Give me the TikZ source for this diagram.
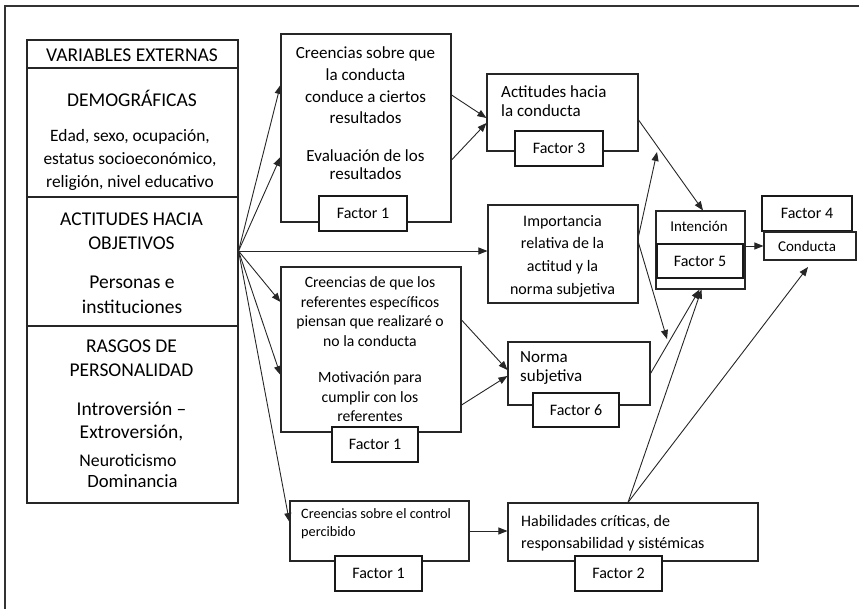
\documentclass[tikz,border=0pt]{standalone}
\usepackage{fontspec}
\setmainfont{Carlito}
\usetikzlibrary{arrows.meta}

\begin{document}
\begin{tikzpicture}[x=1pt, y=-1pt,
  box/.style={draw=black!85, line width=1.1pt, inner sep=0pt},
  tab/.style={draw=black!90, fill=white, line width=1.1pt, inner sep=0pt, minimum height=35pt, font={\fontsize{16}{18}\selectfont}},
  head/.style={align=center, font={\fontsize{19.5}{24}\selectfont}},
  txt/.style={align=center, inner sep=0pt},
  ltxt/.style={align=left, anchor=west, inner sep=0pt},
  arr/.style={-{Triangle[length=9pt,width=7pt]}, line width=0.9pt, draw=black!85}]
  \useasboundingbox (0,0) rectangle (859,609);
  \draw[line width=1.1pt, black!80] (5,6) rectangle (880,630);

  \node[box, minimum width=211pt, minimum height=28pt] (var) at (132.5,54) {};
  \node[box, minimum width=211pt, minimum height=129pt] (demo) at (132.5,132.5) {};
  \node[box, minimum width=211pt, minimum height=129pt] (acti) at (132.5,261.5) {};
  \node[box, minimum width=211pt, minimum height=177pt] (rasg) at (132.5,414.5) {};

  \node[head] (varT) at (132,55) {VARIABLES EXTERNAS};
  \node[head] (demoT) at (132,98) {DEMOGRÁFICAS};
  \node[txt, font={\fontsize{17.4}{23}\selectfont}] (demoL) at (130,160) {Edad, sexo, ocupación,\\estatus socioeconómico,\\religión, nivel educativo};
  \node[head] (actiT) at (131.5,231.5) {ACTITUDES HACIA\\OBJETIVOS};
  \node[head, font={\fontsize{19.5}{25}\selectfont}] (actiL) at (132,295) {Personas e\\instituciones};
  \node[head, font={\fontsize{19.5}{24.5}\selectfont}] (rasgT) at (131.5,358) {RASGOS DE\\PERSONALIDAD};
  \node[head, font={\fontsize{19.5}{23}\selectfont}] (rasgL) at (131.5,421.5) {Introversión –\\Extroversión,};
  \node[txt, font={\fontsize{17.8}{20}\selectfont}] (neuro) at (128,460) {Neuroticismo};
  \node[txt, font={\fontsize{18.7}{20}\selectfont}] (domin) at (132.5,481) {Dominancia};

  \node[box, minimum width=170pt, minimum height=188pt] (crA) at (366,128) {};
  \node[txt, font={\fontsize{17}{21.7}\selectfont}] (crAT) at (365.5,85.5) {Creencias sobre que\\la conducta\\conduce a ciertos\\resultados};
  \node[txt, font={\fontsize{17}{17.5}\selectfont}] (crAL) at (365.5,164.5) {Evaluación de los\\resultados};
  \node[tab, minimum width=88pt] (fA) at (363,213.5) {Factor 1};

  \node[box, minimum width=151pt, minimum height=77pt] (actit) at (562.5,112.5) {};
  \node[ltxt, font={\fontsize{17}{19}\selectfont}] (actitT) at (501,101.5) {Actitudes hacia\\la conducta};
  \node[tab, minimum width=88pt] (f3) at (559,148.5) {Factor 3};

  \node[box, minimum width=150pt, minimum height=98pt] (impo) at (563,254) {};
  \node[txt, font={\fontsize{16}{22.7}\selectfont}] (impoT) at (562.5,256) {Importancia\\relativa de la\\actitud y la\\norma subjetiva};

  \node[box, minimum width=89pt, minimum height=78pt] (inten) at (700.5,250) {};
  \node[txt, font={\fontsize{15}{17}\selectfont}] (intenT) at (699,226) {Intención};
  \node[tab, minimum width=86pt, minimum height=34pt] (f5) at (700,261) {Factor 5};

  \node[tab, minimum width=90pt] (f4) at (807,213.5) {Factor 4};
  \node[box, minimum width=92pt, minimum height=28pt] (cond) at (810,246) {};
  \node[txt, font={\fontsize{15}{17}\selectfont}] (condT) at (807,246) {Conducta};

  \node[box, minimum width=180pt, minimum height=165pt] (crB) at (371,349.5) {};
  \node[txt, font={\fontsize{15.7}{19.7}\selectfont}] (crBT) at (370,311.5) {Creencias de que los\\referentes específicos\\piensan que realizaré o\\no la conducta};
  \node[txt, font={\fontsize{15.7}{19.5}\selectfont}] (crBL) at (370,397) {Motivación para\\cumplir con los\\referentes};
  \node[tab, minimum width=86pt] (fB) at (375,444.5) {Factor 1};

  \node[box, minimum width=142pt, minimum height=63pt] (norma) at (579,373.5) {};
  \node[ltxt, font={\fontsize{17}{19}\selectfont}] (normaT) at (520,368.5) {Norma\\subjetiva};
  \node[tab, minimum width=86pt, minimum height=34pt] (f6) at (576,410) {Factor 6};

  \node[box, minimum width=179pt, minimum height=60pt] (ctrl) at (379.5,531) {};
  \node[ltxt, font={\fontsize{14.3}{18}\selectfont}] (ctrlT) at (301,524) {Creencias sobre el control\\percibido};
  \node[tab, minimum width=87pt] (fC) at (378.5,573.5) {Factor 1};

  \node[box, minimum width=250pt, minimum height=58pt] (habil) at (633,532) {};
  \node[ltxt, font={\fontsize{16}{22}\selectfont}] (habilT) at (521,533) {Habilidades críticas, de\\responsabilidad y sistémicas};
  \node[tab, minimum width=87pt] (f2) at (618.5,573.5) {Factor 2};

  \coordinate (src) at ([yshift=10.5pt]acti.east);
  \coordinate (m1) at (657,152);
  \coordinate (m2) at (667,339);
  \coordinate (m3) at (808,267);

  \draw[arr] (src) -- ([yshift=43pt]crA.west);
  \draw[arr] (src) -- ([yshift=-29pt]crA.west);
  \draw[arr] (src) -- (src -| impo.west);
  \draw[arr] (src) -- ([yshift=47.5pt]crB.west);
  \draw[arr] (src) -- ([yshift=-25.5pt]crB.west);
  \draw[arr] (src) -- ([yshift=9pt]ctrl.west);
  \draw[arr] ([yshift=33pt]crA.east) -- ([yshift=-5.5pt]actit.west);
  \draw[arr] ([yshift=-32pt]crA.east) -- ([yshift=-10.5pt]actit.west);
  \draw[arr] ([yshift=-7.5pt]actit.east) -- ([xshift=2.5pt]inten.north);
  \draw[arr] ([yshift=18pt]impo.east) -- (m1);
  \draw[arr] ([yshift=11pt]impo.east) -- (m2);
  \draw[arr] ([yshift=29.5pt]crB.east) -- ([yshift=3.5pt]norma.west);
  \draw[arr] ([yshift=-55.5pt]crB.east) -- ([yshift=-2.5pt]norma.west);
  \draw[arr] (norma.east) -- ([xshift=-1pt]inten.south);
  \draw[arr] ([xshift=-5pt]habil.north) -- ([xshift=1pt]inten.south);
  \draw[arr] ([xshift=-5pt]habil.north) -- (m3);
  \draw[arr] (cond.west -| inten.east) -- (cond.west);
  \draw[arr] (ctrl.east) -- (ctrl.east -| habil.west);
\end{tikzpicture}
\end{document}
